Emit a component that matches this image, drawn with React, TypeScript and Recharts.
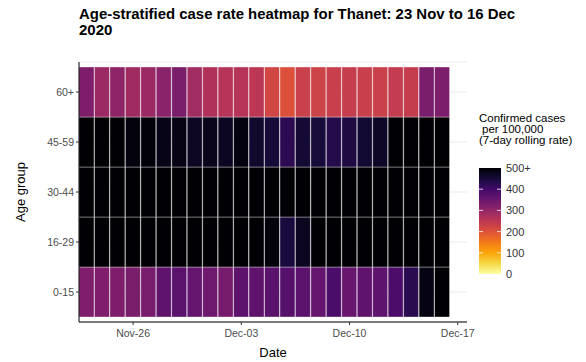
import React from 'react';
import { BarChart, Bar, XAxis, YAxis, CartesianGrid, Cell } from 'recharts';

// ---- data ----
const dates = [
  'Nov-23', 'Nov-24', 'Nov-25', 'Nov-26', 'Nov-27', 'Nov-28', 'Nov-29', 'Nov-30',
  'Dec-01', 'Dec-02', 'Dec-03', 'Dec-04', 'Dec-05', 'Dec-06', 'Dec-07', 'Dec-08',
  'Dec-09', 'Dec-10', 'Dec-11', 'Dec-12', 'Dec-13', 'Dec-14', 'Dec-15', 'Dec-16',
];
const ageGroups = ['0-15', '16-29', '30-44', '45-59', '60+'];

const rate0to15 = [325, 325, 326, 330, 333, 364, 370, 357, 345, 334, 366, 364, 370, 375, 369, 357, 390, 352, 364, 365, 389, 426, 486, 530];
const rate16to29 = [560, 585, 600, 610, 620, 640, 650, 660, 655, 640, 610, 560, 493, 445, 473, 520, 560, 600, 620, 640, 650, 660, 640, 610];
const rate30to44 = [620, 640, 660, 680, 700, 710, 720, 730, 720, 700, 690, 670, 650, 630, 640, 660, 680, 700, 720, 730, 740, 730, 710, 690];
const rate45to59 = [520, 510, 505, 492, 495, 482, 485, 470, 478, 472, 490, 460, 450, 424, 455, 450, 433, 440, 456, 468, 505, 520, 530, 540];
const rate60plus = [326, 291, 306, 284, 290, 311, 330, 283, 265, 259, 259, 250, 221, 202, 230, 226, 232, 236, 232, 230, 240, 238, 330, 328];

const rates = [rate0to15, rate16to29, rate30to44, rate45to59, rate60plus];

const xTickDays = [3, 10, 17, 24];
const xTickLabels = ['Nov-26', 'Dec-03', 'Dec-10', 'Dec-17'];
const legendValues = [0, 100, 200, 300, 400, 500];
const legendLabels = ['0', '100', '200', '300', '400', '500+'];
const RATE_CAP = 500;

// ---- colour scale (inferno, reversed) ----
const infernoStops = ['#000004', '#160b39', '#420a68', '#6a176e', '#932667', '#bc3754', '#dd513a', '#f37819', '#fca50a', '#f6d746', '#fcffa4'];
function hexToRgb(h: string) {
  return [parseInt(h.slice(1, 3), 16), parseInt(h.slice(3, 5), 16), parseInt(h.slice(5, 7), 16)];
}
function inferno(t: number) {
  const tt = Math.max(0, Math.min(1, t));
  const pos = tt * (infernoStops.length - 1);
  const i = Math.min(Math.floor(pos), infernoStops.length - 2);
  const f = pos - i;
  const a = hexToRgb(infernoStops[i]);
  const b = hexToRgb(infernoStops[i + 1]);
  const c = a.map((v, k) => Math.round(v + (b[k] - v) * f));
  return `rgb(${c[0]},${c[1]},${c[2]})`;
}
const rateColor = (v: number) => inferno(1 - Math.min(v, RATE_CAP) / RATE_CAP);

// ---- table for the library ----
const rows = dates.map((d, i) => {
  const r: any = { date: d, day: i };
  ageGroups.forEach((_, k) => { r['g' + k] = 1; });
  return r;
});

// ---- layout ----
const W = 586;
const H = 362;
const M = { top: 62, right: 119, bottom: 10, left: 0 };
const Y_AXIS_W = 79;
const PAD_R = 17;
const plotW = W - M.left - M.right - Y_AXIS_W;
const maxDay = -0.5 + (dates.length * plotW) / (plotW - PAD_R);

const FONT = '"Liberation Sans", Arial, sans-serif';

// legend geometry
const LB = { x: 479, y: 168, w: 22, h: 106 };
const legY = (v: number) => LB.y + LB.h - (v / RATE_CAP) * LB.h;

export default function App() {
  return (
    <div style={{ position: 'absolute', left: 0, top: 0, width: W, height: H, background: '#fff', fontFamily: FONT }}>
      <BarChart
        width={W}
        height={H}
        data={rows}
        margin={M}
        barCategoryGap={0}
        barGap={0}
      >
        <CartesianGrid vertical={false} stroke="#ebebeb" xAxisId="num" />
        <XAxis xAxisId="cat" dataKey="date" type="category" hide height={0} padding={{ left: 0, right: PAD_R }} />
        <XAxis
          xAxisId="num"
          dataKey="day"
          type="number"
          domain={[-0.5, maxDay]}
          allowDataOverflow
          ticks={xTickDays}
          interval={0}
          tickFormatter={(v: number) => xTickLabels[xTickDays.indexOf(v)]}
          height={30}
          tickSize={3}
          tickMargin={5}
          tick={{ fill: '#4d4d4d', fontSize: 10.5, fontFamily: FONT }}
          axisLine={{ stroke: '#000', strokeWidth: 1 }}
          tickLine={{ stroke: '#333' }}
        />
        <YAxis
          type="number"
          domain={[-0.1, ageGroups.length + 0.1]}
          allowDataOverflow
          ticks={ageGroups.map((_, k) => k + 0.5)}
          interval={0}
          tickFormatter={(v: number) => ageGroups[Math.floor(v)]}
          width={Y_AXIS_W}
          tickSize={3}
          tick={{ fill: '#4d4d4d', fontSize: 10.5, fontFamily: FONT }}
          axisLine={{ stroke: '#000', strokeWidth: 1 }}
          tickLine={{ stroke: '#333' }}
        />
        {ageGroups.map((g, k) => (
          <Bar
            key={g}
            dataKey={'g' + k}
            xAxisId="cat"
            stackId="tiles"
            isAnimationActive={false}
            stroke="rgba(255,255,255,0.35)"
            strokeWidth={1}
          >
            {rows.map((_, i) => (
              <Cell key={i} fill={rateColor(rates[k][i])} />
            ))}
          </Bar>
        ))}
      </BarChart>
      <svg width={W} height={H} style={{ position: 'absolute', left: 0, top: 0, pointerEvents: 'none' }}>
        <defs>
          <linearGradient id="inf" x1="0" y1="1" x2="0" y2="0">
            {Array.from({ length: 21 }, (_, i) => (
              <stop key={i} offset={i / 20} stopColor={rateColor((i / 20) * RATE_CAP)} />
            ))}
          </linearGradient>
        </defs>
        <text x={79} y={18.5} fontSize={15} fontWeight="bold" fill="#000" fontFamily={FONT} textLength={436} lengthAdjust="spacingAndGlyphs">
          Age-stratified case rate heatmap for Thanet: 23 Nov to 16 Dec
        </text>
        <text x={79} y={35} fontSize={15} fontWeight="bold" fill="#000" fontFamily={FONT}>
          2020
        </text>
        <text x={20} y={192} fontSize={13} fill="#000" fontFamily={FONT} textAnchor="middle" dominantBaseline="central" transform="rotate(-90 20 192)">
          Age group
        </text>
        <text x={273} y={352} fontSize={13} fill="#000" fontFamily={FONT} textAnchor="middle" dominantBaseline="central">
          Date
        </text>
        <text x={479} y={122} fontSize={11.5} fill="#000" fontFamily={FONT}>Confirmed cases</text>
        <text x={482} y={133} fontSize={11.5} fill="#000" fontFamily={FONT}>per 100,000</text>
        <text x={479} y={144} fontSize={11.5} fill="#000" fontFamily={FONT}>(7-day rolling rate)</text>
        <rect x={LB.x} y={LB.y} width={LB.w} height={LB.h} fill="url(#inf)" />
        {legendValues.map((v, i) => (
          <g key={v}>
            {v > 0 && v < RATE_CAP && (
              <>
                <line x1={LB.x} x2={LB.x + 4} y1={legY(v)} y2={legY(v)} stroke="#fff" strokeOpacity={0.8} />
                <line x1={LB.x + LB.w - 4} x2={LB.x + LB.w} y1={legY(v)} y2={legY(v)} stroke="#fff" strokeOpacity={0.8} />
              </>
            )}
            <text x={LB.x + LB.w + 5} y={legY(v)} fontSize={11} fill="#333" fontFamily={FONT} dominantBaseline="central">
              {legendLabels[i]}
            </text>
          </g>
        ))}
      </svg>
    </div>
  );
}
